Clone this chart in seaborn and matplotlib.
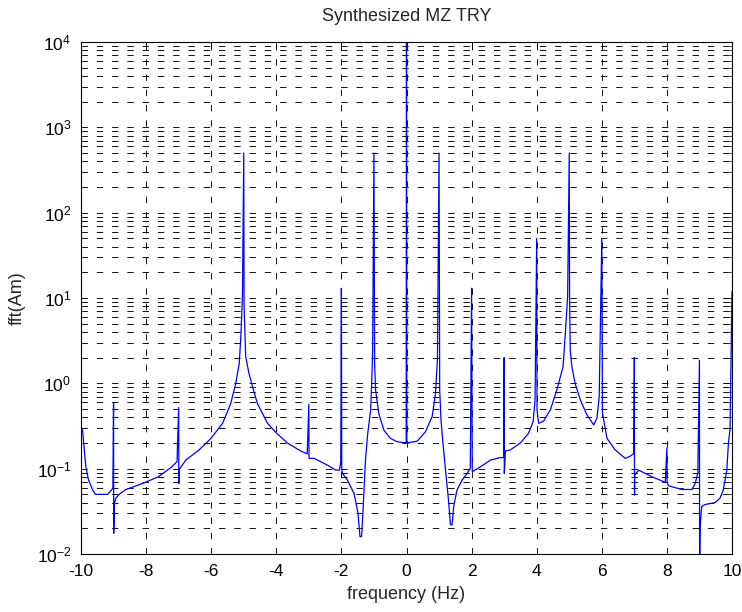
import matplotlib
matplotlib.use("Agg")
import matplotlib.pyplot as plt
import matplotlib.ticker as mticker
import seaborn as sns
import pandas as pd
import numpy as np

title = "Synthesized MZ TRY"
x_label = "frequency (Hz)"
y_label = "fft(Am)"
x_ticks = [-10, -8, -6, -4, -2, 0, 2, 4, 6, 8, 10]

freq = [-10.00, -9.99, -9.95, -9.90, -9.85, -9.77, -9.64, -9.56, -9.18, -9.05,
        -9.02, -9.00, -8.995, -8.97, -8.93, -8.83, -8.62, -8.11, -7.62, -7.21,
        -7.05, -7.00, -6.995, -6.98, -6.78, -6.37, -6.01, -5.65, -5.40, -5.245,
        -5.14, -5.09, -5.04, -5.00, -4.99, -4.94, -4.84, -4.73, -4.58, -4.27,
        -3.99, -3.66, -3.25, -3.05, -3.00, -2.995, -2.84, -2.43, -2.18, -2.06,
        -2.02, -2.00, -1.99, -1.97, -1.82, -1.61, -1.49, -1.43, -1.38, -1.34,
        -1.26, -1.19, -1.10, -1.07, -1.04, -1.00, -0.98, -0.95, -0.85, -0.69,
        -0.49, -0.29, -0.01, 0.00, 0.01, 0.33, 0.58, 0.79, 0.89, 0.95,
        1.00, 1.02, 1.06, 1.12, 1.20, 1.30, 1.35, 1.40, 1.45, 1.55,
        1.71, 1.86, 1.96, 2.00, 2.02, 2.27, 2.58, 2.88, 2.99, 3.00,
        3.005, 3.04, 3.19, 3.50, 3.75, 3.89, 3.95, 4.00, 4.01, 4.06,
        4.21, 4.42, 4.62, 4.81, 4.88, 4.95, 5.00, 5.01, 5.03, 5.08,
        5.18, 5.34, 5.54, 5.75, 5.85, 5.92, 6.00, 6.02, 6.16, 6.41,
        6.72, 6.87, 6.98, 7.00, 7.005, 7.01, 7.13, 7.54, 7.95, 8.00,
        8.005, 8.05, 8.46, 8.77, 8.87, 8.95, 9.00, 9.005, 9.02, 9.07,
        9.17, 9.48, 9.63, 9.73, 9.84, 9.89, 9.94, 10.00]

amp = [13, 0.30, 0.28, 0.166, 0.105, 0.074, 0.056, 0.050, 0.050, 0.057,
       0.06, 0.58, 0.0175, 0.040, 0.045, 0.050, 0.057, 0.067, 0.0805, 0.105,
       0.121, 0.52, 0.067, 0.098, 0.126, 0.166, 0.226, 0.34, 0.58, 1.0,
       1.7, 3.5, 10.4, 500, 8, 2.05, 1.31, 0.91, 0.58, 0.34,
       0.26, 0.20, 0.161, 0.149, 0.57, 0.132, 0.132, 0.110, 0.0964, 0.096,
       0.12, 13, 0.10, 0.088, 0.074, 0.051, 0.030, 0.016, 0.016, 0.030,
       0.126, 0.26, 0.49, 1.0, 2.46, 500, 1.7, 0.84, 0.44, 0.28,
       0.226, 0.207, 0.20, 10000, 0.20, 0.21, 0.27, 0.41, 0.76, 1.87,
       500, 0.84, 0.37, 0.198, 0.096, 0.039, 0.022, 0.022, 0.036, 0.056,
       0.0736, 0.088, 0.101, 13, 0.092, 0.105, 0.126, 0.135, 0.135, 2.0,
       0.088, 0.161, 0.166, 0.20, 0.26, 0.355, 0.64, 50, 0.49, 0.34,
       0.36, 0.49, 0.84, 1.57, 3.86, 10.4, 500, 10, 2.46, 1.57,
       1.0, 0.64, 0.43, 0.325, 0.39, 0.69, 50, 0.45, 0.226, 0.166,
       0.132, 0.14, 0.15, 2.0, 0.049, 0.084, 0.096, 0.0805, 0.069, 0.176,
       0.069, 0.063, 0.057, 0.057, 0.067, 0.09, 1.87, 0.005, 0.021, 0.036,
       0.038, 0.040, 0.045, 0.056, 0.096, 0.198, 0.29, 12]

df = pd.DataFrame({"freq": freq, "amp": amp})

sns.set_theme(style="white")
plt.rcParams["font.family"] = ["Liberation Sans", "DejaVu Sans"]
plt.rcParams["lines.scale_dashes"] = False
plt.rcParams["mathtext.fontset"] = "custom"
plt.rcParams["mathtext.rm"] = "Liberation Sans"
plt.rcParams["mathtext.it"] = "Liberation Sans"

fig = plt.figure(figsize=(7.42, 6.12), dpi=100)
ax = fig.add_axes([81 / 742, 1 - 554 / 612, (732 - 81) / 742, (554 - 42) / 612])

sns.lineplot(data=df, x="freq", y="amp", sort=False, estimator=None,
             color="#0000ff", linewidth=0.9, ax=ax)

ax.set_yscale("log")
ax.set_xlim(-10, 10)
ax.set_ylim(1e-2, 1e4)
ax.set_xticks(x_ticks)
ax.set_xticklabels([str(t) for t in x_ticks])
ax.yaxis.set_major_locator(mticker.LogLocator(base=10, numticks=10))
ax.yaxis.set_minor_locator(mticker.LogLocator(base=10, subs=np.arange(2, 10), numticks=100))
ax.yaxis.set_major_formatter(mticker.LogFormatterMathtext())
ax.yaxis.set_minor_formatter(mticker.NullFormatter())
ax.xaxis.get_offset_text().set_visible(False)
ax.yaxis.get_offset_text().set_visible(False)

dash = (0, (4.6, 6.4))
ax.grid(True, which="major", axis="both", color="black", linestyle=dash, linewidth=0.65)
ax.grid(True, which="minor", axis="y", color="black", linestyle=dash, linewidth=0.65)
ax.set_axisbelow(True)

for s in ax.spines.values():
    s.set_visible(True)
    s.set_color("black")
    s.set_linewidth(0.8)

ax.tick_params(which="major", direction="in", length=5, width=0.6, top=True, right=True,
               labelsize=12.5, colors="black", pad=7)
ax.tick_params(which="minor", direction="in", length=2.5, width=0.6, top=False, right=True,
               left=True)

ax.set_title(title, fontsize=13, pad=15)
ax.set_xlabel(x_label, fontsize=13, labelpad=5)
ax.set_ylabel(y_label, fontsize=13, labelpad=8)
ax.set_facecolor("white")
fig.patch.set_facecolor("white")

fig.savefig("out.png", dpi=100)
